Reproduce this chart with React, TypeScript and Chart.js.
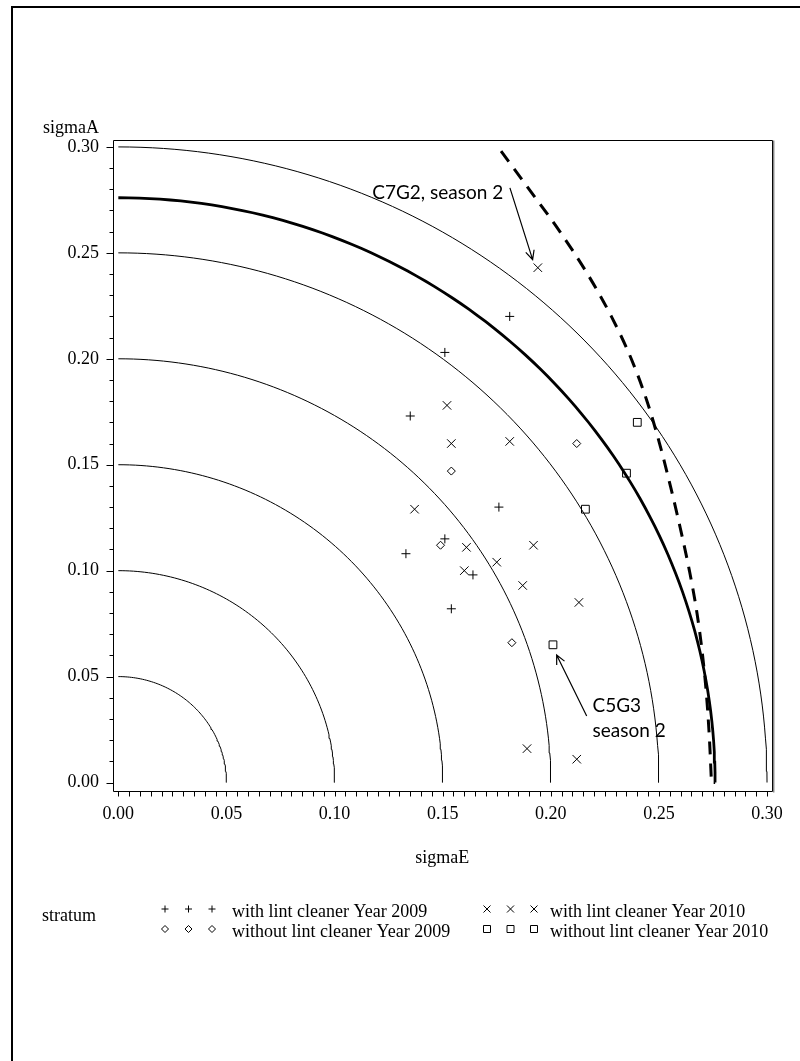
import React, { useEffect, useRef } from "react";
import { Chart, registerables } from "chart.js";

Chart.register(...registerables);

// ---------------- data ----------------
const circleRadii = [0.05, 0.1, 0.15, 0.2, 0.25, 0.3];
const thickRadius = 0.276;

const plus2009E = [0.181, 0.151, 0.135, 0.176, 0.151, 0.133, 0.164, 0.154];
const plus2009A = [0.22, 0.203, 0.173, 0.13, 0.115, 0.108, 0.098, 0.082];

const cross2010E = [0.194, 0.152, 0.154, 0.181, 0.137, 0.161, 0.192, 0.175, 0.16, 0.187, 0.213, 0.189, 0.212];
const cross2010A = [0.243, 0.178, 0.16, 0.161, 0.129, 0.111, 0.112, 0.104, 0.1, 0.093, 0.085, 0.016, 0.011];

const diamond2009E = [0.212, 0.154, 0.149, 0.182];
const diamond2009A = [0.16, 0.147, 0.112, 0.066];

const square2010E = [0.24, 0.235, 0.216, 0.201];
const square2010A = [0.17, 0.146, 0.129, 0.065];

const boundE = [0.177, 0.19, 0.2042, 0.217, 0.228, 0.2372, 0.2445, 0.2503, 0.2553, 0.2599, 0.2641, 0.2676, 0.2702, 0.2721, 0.2734, 0.2743];
const boundA = [0.298, 0.28, 0.26, 0.24, 0.22, 0.2, 0.18, 0.16, 0.14, 0.12, 0.1, 0.08, 0.06, 0.04, 0.02, 0.0];

const tickValues = [0, 0.05, 0.1, 0.15, 0.2, 0.25, 0.3];
const tickLabels = ["0.00", "0.05", "0.10", "0.15", "0.20", "0.25", "0.30"];

const xTitle = "sigmaE";
const yTitle = "sigmaA";
const legendTitle = "stratum";
const legendLabels = [
  "with lint cleaner Year 2009",
  "with lint cleaner Year 2010",
  "without lint cleaner Year 2009",
  "without lint cleaner Year 2010",
];

// annotations (data coordinates)
const note1Lines = ["C7G2, season 2"];
const note1Pos = [0.178, 0.2783];
const arrow1From = [0.1811, 0.2807];
const arrow1To = [0.1916, 0.2468];
const note2Lines = ["C5G3", "season 2"];
const note2Pos = [0.2193, 0.0361];
const arrow2From = [0.2166, 0.0314];
const arrow2To = [0.2027, 0.0602];

// ---------------- helpers ----------------
const pts = (xs: number[], ys: number[]) => xs.map((x, i) => ({ x, y: ys[i] }));
const quarterCircle = (r: number) => {
  const out: { x: number; y: number }[] = [];
  for (let d = 0; d <= 90; d += 1) {
    const a = (d * Math.PI) / 180;
    out.push({ x: r * Math.cos(a), y: r * Math.sin(a) });
  }
  return out;
};

const SERIF = "'Liberation Serif', 'Times New Roman', serif";
const SANS = "Lato, 'Open Sans', sans-serif";

function drawMarker(ctx: CanvasRenderingContext2D, kind: string, x: number, y: number, s: number) {
  ctx.beginPath();
  if (kind === "plus") {
    ctx.moveTo(x - s, y); ctx.lineTo(x + s, y);
    ctx.moveTo(x, y - s); ctx.lineTo(x, y + s);
  } else if (kind === "cross") {
    ctx.moveTo(x - s, y - s); ctx.lineTo(x + s, y + s);
    ctx.moveTo(x + s, y - s); ctx.lineTo(x - s, y + s);
  } else if (kind === "diamond") {
    ctx.moveTo(x - s, y); ctx.lineTo(x, y - s); ctx.lineTo(x + s, y); ctx.lineTo(x, y + s); ctx.closePath();
  } else {
    ctx.rect(x - s, y - s, 2 * s, 2 * s);
  }
  ctx.stroke();
}

function drawArrow(ctx: CanvasRenderingContext2D, x1: number, y1: number, x2: number, y2: number) {
  ctx.beginPath();
  ctx.moveTo(x1, y1);
  ctx.lineTo(x2, y2);
  const ang = Math.atan2(y2 - y1, x2 - x1);
  const L = 10;
  const spread = 0.45;
  ctx.moveTo(x2 - L * Math.cos(ang - spread), y2 - L * Math.sin(ang - spread));
  ctx.lineTo(x2, y2);
  ctx.lineTo(x2 - L * Math.cos(ang + spread), y2 - L * Math.sin(ang + spread));
  ctx.stroke();
}

const overlay = {
  id: "overlay",
  afterDraw(chart: any) {
    const ctx: CanvasRenderingContext2D = chart.ctx;
    const { left, top, right, bottom } = chart.chartArea;
    const xs = chart.scales.x;
    const ys = chart.scales.y;
    ctx.save();

    // outer frame (left + top)
    ctx.fillStyle = "#000";
    ctx.fillRect(11, 6, 2, 1061 - 6);
    ctx.fillRect(11, 6, 800 - 11, 2);

    // plot box
    ctx.strokeStyle = "#000";
    ctx.lineWidth = 1;
    const L = Math.round(left) + 0.5, T = Math.round(top) + 0.5, R = Math.round(right) + 0.5, B = Math.round(bottom) + 0.5;
    ctx.beginPath();
    ctx.moveTo(L, T); ctx.lineTo(R, T); ctx.lineTo(R, B); ctx.lineTo(L, B); ctx.closePath();
    ctx.stroke();
    ctx.strokeStyle = "#888";
    ctx.lineWidth = 1.5;
    ctx.beginPath();
    ctx.moveTo(R + 1.2, T); ctx.lineTo(R + 1.2, B + 1);
    ctx.stroke();

    // ticks
    ctx.strokeStyle = "#000";
    ctx.lineWidth = 1;
    ctx.beginPath();
    for (let i = 0; i <= 30; i++) {
      const py = Math.round(ys.getPixelForValue(i / 100)) + 0.5;
      const len = i % 5 === 0 ? 7 : 4;
      ctx.moveTo(L - len, py); ctx.lineTo(L, py);
    }
    for (let i = 0; i <= 60; i++) {
      const px = Math.round(xs.getPixelForValue(i / 200)) + 0.5;
      ctx.moveTo(px, B); ctx.lineTo(px, B + 5);
    }
    ctx.stroke();

    // y title above axis
    ctx.fillStyle = "#000";
    ctx.font = `18px ${SERIF}`;
    ctx.textAlign = "right";
    ctx.textBaseline = "middle";
    ctx.fillText(yTitle, left - 13.5, 128);

    // annotations
    ctx.font = `19px ${SANS}`;
    ctx.textAlign = "right";
    ctx.fillText(note1Lines[0], xs.getPixelForValue(note1Pos[0]), ys.getPixelForValue(note1Pos[1]));
    ctx.textAlign = "left";
    note2Lines.forEach((t, i) => {
      ctx.fillText(t, xs.getPixelForValue(note2Pos[0]), ys.getPixelForValue(note2Pos[1]) + i * 25);
    });
    ctx.lineWidth = 1.2;
    drawArrow(ctx, xs.getPixelForValue(arrow1From[0]), ys.getPixelForValue(arrow1From[1]), xs.getPixelForValue(arrow1To[0]), ys.getPixelForValue(arrow1To[1]));
    drawArrow(ctx, xs.getPixelForValue(arrow2From[0]), ys.getPixelForValue(arrow2From[1]), xs.getPixelForValue(arrow2To[0]), ys.getPixelForValue(arrow2To[1]));

    // legend
    ctx.font = `18px ${SERIF}`;
    ctx.textAlign = "left";
    ctx.fillText(legendTitle, 42, 916);
    const kinds = ["plus", "cross", "diamond", "square"];
    const symX = [165, 487];
    const txtX = [232, 550];
    const rowY = [912, 932];
    ctx.lineWidth = 1;
    kinds.forEach((k, i) => {
      const col = i % 2;
      const row = Math.floor(i / 2);
      for (let j = 0; j < 3; j++) {
        drawMarker(ctx, k, symX[col] + j * 23.5, rowY[row] - 3, 3.5);
      }
      ctx.fillText(legendLabels[i], txtX[col], rowY[row]);
    });

    ctx.restore();
  },
};

export default function App() {
  const ref = useRef<HTMLCanvasElement | null>(null);

  useEffect(() => {
    if (!ref.current) return;
    const lineBase = {
      type: "line" as const,
      showLine: true,
      pointRadius: 0,
      borderColor: "#000",
      fill: false,
      tension: 0,
    };
    const circleSets = circleRadii.map((r) => ({
      ...lineBase,
      data: quarterCircle(r),
      borderWidth: 1,
    }));
    const markerBase = {
      showLine: false,
      borderColor: "#000",
      backgroundColor: "rgba(0,0,0,0)",
      pointBackgroundColor: "rgba(0,0,0,0)",
      borderWidth: 1,
    };
    const chart = new Chart(ref.current, {
      type: "scatter",
      data: {
        datasets: [
          { ...markerBase, label: legendLabels[0], data: pts(plus2009E, plus2009A), pointStyle: "cross", pointRadius: 4.5 },
          { ...markerBase, label: legendLabels[1], data: pts(cross2010E, cross2010A), pointStyle: "crossRot", pointRadius: 6 },
          { ...markerBase, label: legendLabels[2], data: pts(diamond2009E, diamond2009A), pointStyle: "rectRot", pointRadius: 4 },
          { ...markerBase, label: legendLabels[3], data: pts(square2010E, square2010A), pointStyle: "rect", pointRadius: 5.5 },
          { ...lineBase, data: pts(boundE, boundA), borderWidth: 3, borderDash: [13, 9], cubicInterpolationMode: "monotone" },
          { ...lineBase, data: quarterCircle(thickRadius), borderWidth: 2.8 },
          ...circleSets,
        ] as any,
      },
      options: {
        animation: false,
        responsive: false,
        devicePixelRatio: 1,
        layout: { padding: { top: 139.5, right: 28, bottom: 180, left: 0 } },
        plugins: { legend: { display: false }, tooltip: { enabled: false }, title: { display: false } },
        scales: {
          x: {
            type: "linear",
            min: -0.0027,
            max: 0.3023,
            afterBuildTicks: (scale: any) => {
              scale.ticks = tickValues.map((v) => ({ value: v }));
            },
            afterFit: (scale: any) => {
              scale.height = 90;
            },
            ticks: {
              autoSkip: false,
              maxRotation: 0,
              color: "#000",
              font: { family: SERIF, size: 18 },
              padding: 12,
              callback: (_v: any, i: number) => tickLabels[i],
            },
            grid: { display: false, drawTicks: false },
            border: { display: false },
            title: {
              display: true,
              text: xTitle,
              color: "#000",
              font: { family: SERIF, size: 18 },
              padding: { top: 0, bottom: 12 },
            },
          },
          y: {
            type: "linear",
            min: -0.004,
            max: 0.3035,
            afterBuildTicks: (scale: any) => {
              scale.ticks = tickValues.map((v) => ({ value: v }));
            },
            afterFit: (scale: any) => {
              scale.width = 112.5;
            },
            ticks: {
              autoSkip: false,
              color: "#000",
              font: { family: SERIF, size: 18 },
              padding: 13.5,
              callback: (_v: any, i: number) => tickLabels[i],
            },
            grid: { display: false, drawTicks: false },
            border: { display: false },
          },
        },
      } as any,
      plugins: [overlay],
    });
    return () => chart.destroy();
  }, []);

  return (
    <div style={{ position: "absolute", left: 0, top: 0, width: 800, height: 1061, background: "#fff" }}>
      <canvas ref={ref} width={800} height={1061} style={{ width: 800, height: 1061, display: "block" }} />
    </div>
  );
}
